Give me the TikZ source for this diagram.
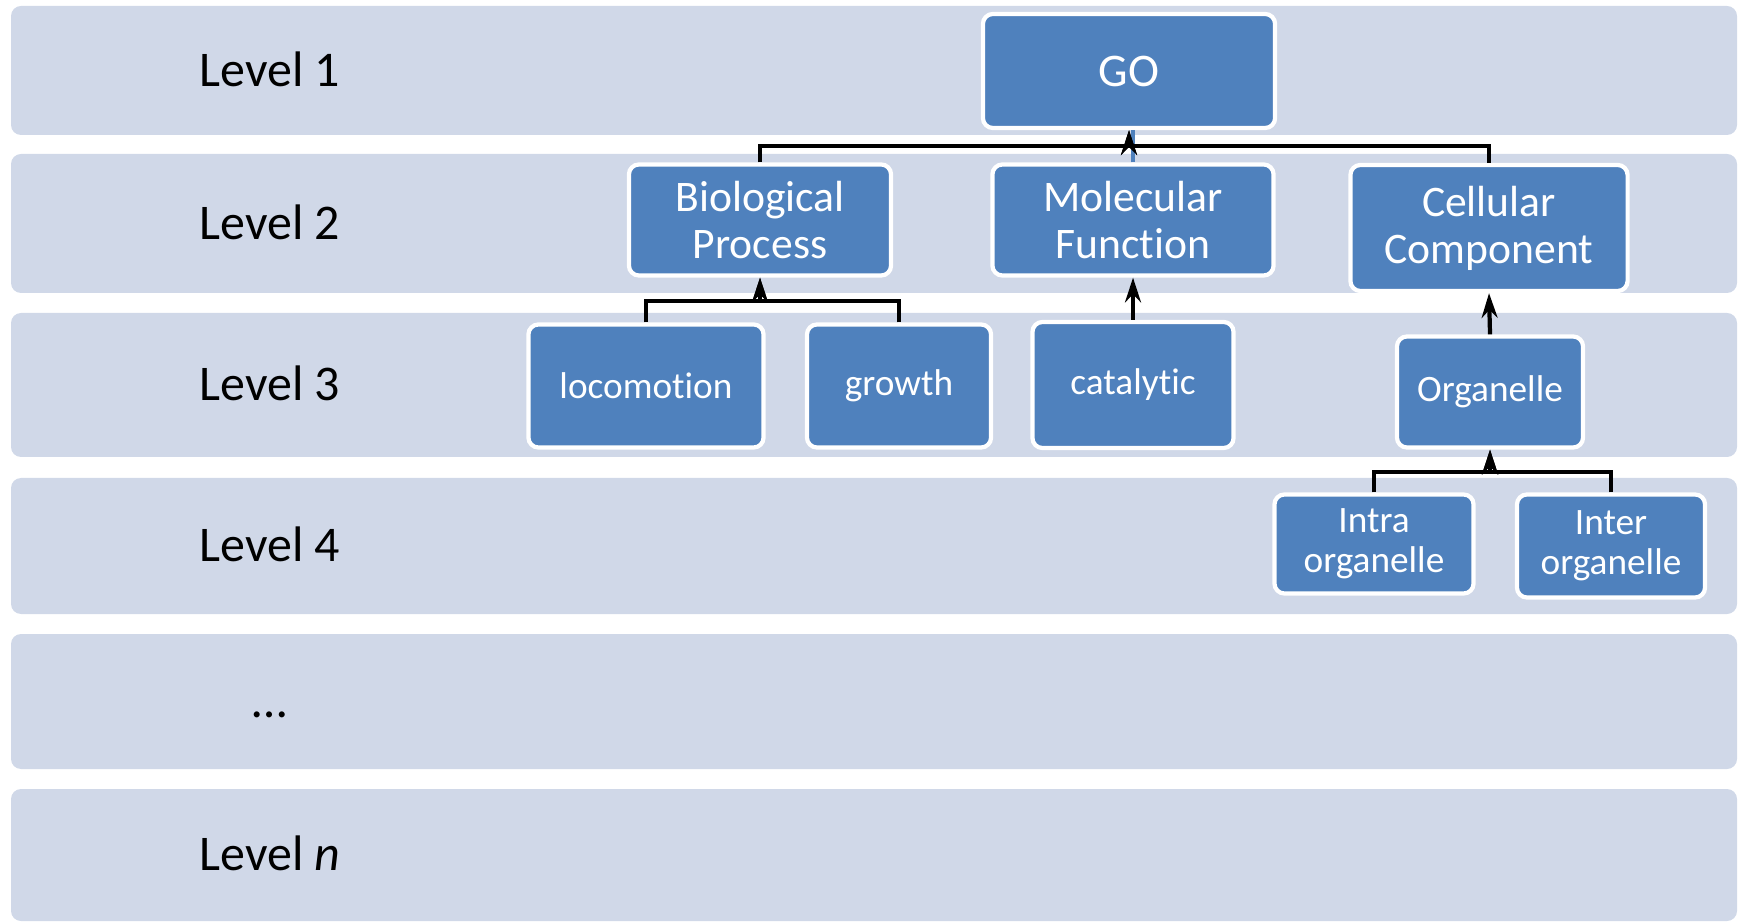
\documentclass[tikz,border=0pt]{standalone}
\usepackage{fontspec}
\setmainfont{Carlito}[RawFeature=-liga]
\usetikzlibrary{arrows.meta}
\definecolor{bandgray}{HTML}{D0D8E8}
\definecolor{boxblue}{HTML}{4F81BD}

\begin{document}
\begin{tikzpicture}[x=0.01cm,y=-0.01cm,
	band/.style={fill=bandgray,rounded corners=0.1cm},
	lvl/.style={font=\fontsize{14.2}{16}\selectfont,text height=0.31cm,text depth=0pt},
	term/.style={fill=boxblue,draw=white,line width=1.2pt,rounded corners=0.1cm,
		text=white,align=center,inner sep=0pt,font=\fontsize{12.4}{13.4}\selectfont},
	small/.style={font=\fontsize{10.6}{11.4}\selectfont},
	link/.style={line width=1.2pt,-{Stealth[length=7pt,width=4.5pt]}},
	bluelink/.style={line width=1.2pt,boxblue}]
	\useasboundingbox (0,0) rectangle (1743,922);
	% level bands
	\foreach \top/\bot/\lab [count=\i] in {6/135/Level 1, 154/293/Level 2, 313/457/Level 3,
		478/614/Level 4, 634/769/…, 789/921/{Level \textit{n}}}{
		\fill[band] (11,\top) rectangle (1737,\bot);
		\node[lvl] (lvl\i) at (270,{(\top+\bot)/2}) {\lab};
	}
	% terms
	\node[term,minimum width=2.92cm,minimum height=1.14cm,font=\fontsize{13.3}{14}\selectfont] (go) at (1129,71) {GO};
	\node[term,minimum width=2.62cm,minimum height=1.11cm] (bp) at (760,220) {Biological\\Process};
	\node[term,minimum width=2.81cm,minimum height=1.11cm] (mf) at (1133,220) {Molecular\\Function};
	\node[term,minimum width=2.77cm,minimum height=1.26cm] (cc) at (1489,228) {Cellular\\Component};
	\node[term,small,minimum width=2.35cm,minimum height=1.23cm] (loco) at (646,386) {locomotion};
	\node[term,small,minimum width=1.84cm,minimum height=1.23cm] (growth) at (899,386) {growth};
	\node[term,small,minimum width=2.01cm,minimum height=1.26cm] (cat) at (1133,385) {catalytic};
	\node[term,small,minimum width=1.86cm,minimum height=1.11cm] (org) at (1490,392) {Organelle};
	\node[term,small,minimum width=1.99cm,minimum height=0.99cm] (intra) at (1374,544) {Intra\\organelle};
	\node[term,small,minimum width=1.88cm,minimum height=1.03cm] (inter) at (1611,546) {Inter\\organelle};
	% bars
	\coordinate (gobar) at (1129,146);
	\coordinate (bpbar) at (760,301);
	\coordinate (orgbar) at (1490,472);
	% links
	\draw[bluelink] (mf.north) -- (mf.north |- go.south);
	\draw[link] (bp.north) |- (gobar) -- (go.south);
	\draw[link] (cc.north) |- (gobar) -- (go.south);
	\draw[link] (loco.north) |- (bpbar) -- (bp.south);
	\draw[link] (growth.north) |- (bpbar) -- (bp.south);
	\draw[link] (cat.north) -- (mf.south);
	\draw[link] (org.north) -- (cc.south);
	\draw[link] (intra.north) |- (orgbar) -- (org.south);
	\draw[link] (inter.north) |- (orgbar) -- (org.south);
\end{tikzpicture}
\end{document}
